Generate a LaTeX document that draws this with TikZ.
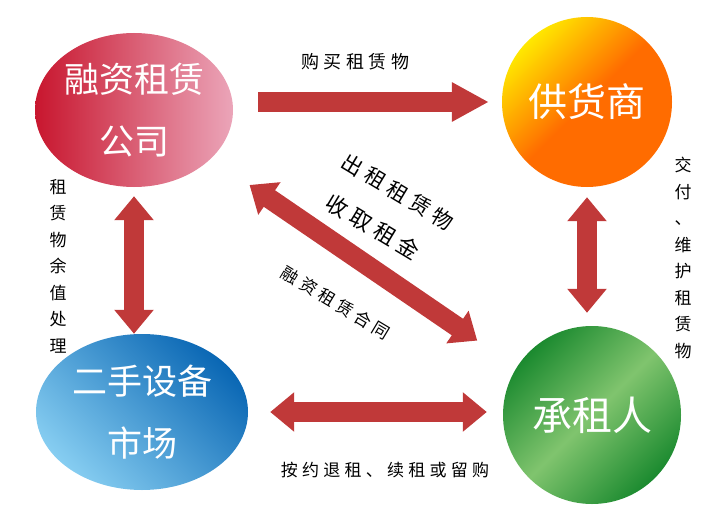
\documentclass[tikz,border=0pt]{standalone}
\usepackage{fontspec}
\newfontfamily\cjk{Noto Sans CJK SC}
\newfontfamily\cjksp[LetterSpace=25]{Noto Sans CJK SC}
\usetikzlibrary{positioning, shapes.geometric, calc, arrows.meta}

\definecolor{arrowred}{RGB}{192,57,57}
\definecolor{finred}{RGB}{200,22,46}
\definecolor{finpink}{RGB}{235,165,185}
\definecolor{supyellow}{RGB}{255,232,0}
\definecolor{suporange}{RGB}{255,108,0}
\definecolor{lesdark}{RGB}{27,138,47}
\definecolor{leslight}{RGB}{128,196,110}
\definecolor{mktlight}{RGB}{134,205,241}
\definecolor{mktdark}{RGB}{10,103,180}

\tikzset{
  party/.style={text=white, inner sep=0pt, align=center, font=\cjk\fontsize{35}{62}\selectfont},
  lbl/.style={inner sep=0pt, font=\cjksp\fontsize{18}{26}\selectfont},
  vlbl/.style={inner sep=0pt, align=center, font=\cjk\fontsize{17}{26.5}\selectfont},
  onearrow/.style={draw=arrowred, line width=20pt, -{Triangle[length=37pt,width=37pt]}},
  twoarrow/.style={draw=arrowred, line width=20pt, {Triangle[length=24pt,width=38pt]}-{Triangle[length=24pt,width=38pt]}}
}

\begin{document}
\begin{tikzpicture}[x=1pt, y=-1pt]

% Manually size the picture
\useasboundingbox (0, 0) rectangle (727, 516);

% Leasing company
\node[party, ellipse, minimum width=198pt, minimum height=154pt,
      left color=finred, right color=finpink] (fin) at (134, 110) {融资租赁\\公司};

% Supplier
\node[party, circle, minimum size=170pt,
      top color=supyellow, bottom color=suporange, middle color=suporange,
      shading angle=45, font=\cjk\fontsize{39}{39}\selectfont] (sup) at (587, 102) {供货商};

% Lessee
\node[party, circle, minimum size=178pt,
      top color=lesdark, bottom color=lesdark, middle color=leslight,
      shading angle=45, font=\cjk\fontsize{40}{40}\selectfont] (les) at (592, 415) {承租人};

% Second-hand market
\node[party, ellipse, minimum width=212pt, minimum height=156pt,
      top color=mktdark, bottom color=mktlight, shading angle=-45] (mkt) at (142, 412) {二手设备\\市场};

% Buy the goods
\draw[onearrow, shorten <=25pt, shorten >=13pt] (fin.east |- sup.west) -- (sup.west);
\node[lbl] (buy) at (355, 62) {购买租赁物};

% Residual value
\draw[twoarrow, shorten <=9pt] (fin.south) -- (fin.south |- mkt.north);
\node[vlbl] (resid) at (58, 266) {租\\赁\\物\\余\\值\\处\\理};

% Delivery and upkeep
\draw[twoarrow, shorten <=10pt, shorten >=13pt] (sup.south) -- (sup.south |- les.north);
\node[vlbl] (deliv) at (683, 258) {交\\付\\、\\维\\护\\租\\赁\\物};

% Lease contract
\draw[twoarrow, shorten <=140pt, shorten >=139pt] ([yshift=4pt]fin.center) -- ([yshift=-4pt]les.center);
\node[lbl, rotate=-31, font=\cjksp\fontsize{21}{21}\selectfont] (rent) at (398, 192) {出租租赁物};
\node[lbl, rotate=-31, font=\cjksp\fontsize{22}{22}\selectfont] (fee) at (373, 227) {收取租金};
\node[lbl, rotate=-31, font=\cjksp\fontsize{17}{17}\selectfont] (contract) at (336, 303) {融资租赁合同};

% Return, renew or buy
\draw[twoarrow, shorten <=22pt, shorten >=16pt] (mkt.east) -- (mkt.east -| les.west);
\node[lbl, font=\cjksp\fontsize{17}{17}\selectfont] (end) at (385, 470) {按约退租、续租或留购};

\end{tikzpicture}
\end{document}
